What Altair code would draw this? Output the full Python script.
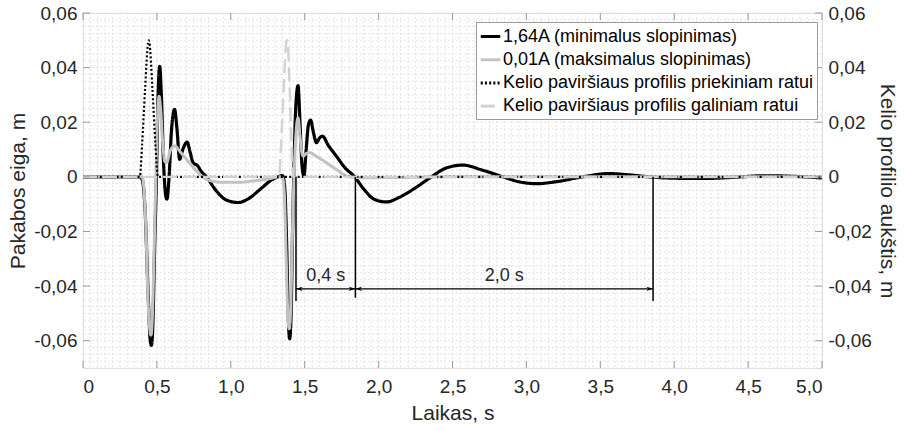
import altair as alt
import pandas as pd
import numpy as np

SERIES = ["1,64A (minimalus slopinimas)", "0,01A (maksimalus slopinimas)",
          "Kelio paviršiaus profilis priekiniam ratui", "Kelio paviršiaus profilis galiniam ratui"]
COLORS = ["#000000", "#c2c2c2", "#000000", "#d2d2d2"]
DASHES = [[1, 0], [1, 0], [2, 2.2], [14, 6]]

# 1,64A (minimal damping)
t_a = [0, 0.38, 0.40, 0.42, 0.44, 0.455, 0.463, 0.472, 0.485, 0.497, 0.508, 0.519, 0.53, 0.545, 0.56, 0.568,
       0.58, 0.60, 0.62, 0.635, 0.654, 0.675, 0.704, 0.725, 0.744, 0.776, 0.80, 0.835, 0.9, 0.97, 1.05, 1.12,
       1.2, 1.28, 1.32, 1.35, 1.365, 1.378, 1.39, 1.398, 1.407, 1.418, 1.428, 1.44, 1.455, 1.468, 1.482, 1.495,
       1.51, 1.525, 1.54, 1.56, 1.579, 1.60, 1.62, 1.66, 1.714, 1.77, 1.838, 1.9, 1.97, 2.053, 2.14, 2.25, 2.357,
       2.46, 2.571, 2.7, 2.842, 2.95, 3.07, 3.2, 3.38, 3.56, 3.7, 3.83, 4.0, 4.2, 4.4, 4.6, 4.8, 5.0]
y_a = [0, 0, -0.001, -0.012, -0.042, -0.06, -0.0617, -0.055, -0.025, 0.0, 0.03, 0.0405, 0.03, 0.005, -0.007, -0.0082,
       -0.002, 0.018, 0.0247, 0.018, 0.0064, 0.010, 0.0127, 0.009, 0.0053, 0.004, 0.002, 0.0, -0.005, -0.0085, -0.0094, -0.008,
       -0.0045, -0.001, 0.0, 0.0005, -0.004, -0.025, -0.053, -0.0593, -0.052, -0.02, 0.005, 0.026, 0.0334, 0.02, 0.004, 0.0003,
       0.01, 0.019, 0.0208, 0.016, 0.0125, 0.0142, 0.0149, 0.0115, 0.0076, 0.0035, 0.0, -0.0045, -0.0082, -0.0092, -0.0075, -0.004, 0.0,
       0.0033, 0.0043, 0.0025, 0.0, -0.0018, -0.0025, -0.0018, 0.0, 0.0012, 0.0007, 0.0, -0.0005, -0.0006, -0.0002, 0.0004, 0.0002, -0.0004]

# 0,01A (maximal damping)
t_b = [0, 0.40, 0.41, 0.425, 0.44, 0.452, 0.46, 0.468, 0.48, 0.492, 0.503, 0.515, 0.525, 0.54, 0.555, 0.567, 0.59,
       0.62, 0.66, 0.72, 0.77, 0.81, 0.87, 0.95, 1.05, 1.15, 1.25, 1.33, 1.35, 1.362, 1.375, 1.387, 1.395, 1.404,
       1.415, 1.428, 1.44, 1.455, 1.468, 1.48, 1.49, 1.51, 1.53, 1.58, 1.647, 1.72, 1.80, 1.9, 2.2, 2.5, 5.0]
y_b = [0, 0, -0.003, -0.018, -0.045, -0.056, -0.058, -0.053, -0.03, -0.003, 0.02, 0.0295, 0.025, 0.012, 0.0055, 0.0053, 0.0095,
       0.0113, 0.009, 0.0052, 0.002, 0.0, -0.0015, -0.002, -0.002, -0.0015, -0.0008, 0.0, -0.0005, -0.006, -0.03, -0.052, -0.0556, -0.05,
       -0.025, 0.0, 0.015, 0.0216, 0.015, 0.009, 0.0076, 0.0085, 0.0089, 0.0075, 0.0052, 0.0025, 0.0, -0.0003, -0.0002, 0.0, 0.0]

# road profile, front wheel
t_c = [0, 0.384, 0.40, 0.42, 0.44, 0.445, 0.45, 0.47, 0.49, 0.507, 5.0]
y_c = [0, 0, 0.012, 0.032, 0.049, 0.05, 0.049, 0.032, 0.012, 0, 0]

# road profile, rear wheel
t_d = [0, 1.326, 1.34, 1.36, 1.375, 1.38, 1.385, 1.40, 1.421, 5.0]
y_d = [0, 0, 0.012, 0.035, 0.049, 0.05, 0.049, 0.03, 0, 0]

# annotations
mark_t = [1.441, 1.843, 3.857]
mark_y = [-0.0455, -0.0443, -0.0455]
arrow_from = [1.441, 1.843]
arrow_to = [1.843, 3.857]
arrow_y = [-0.041, -0.041]
arrow_text = ["0,4 s", "2,0 s"]
text_y = [-0.0362, -0.0362]

x_ticks = [0, 0.5, 1.0, 1.5, 2.0, 2.5, 3.0, 3.5, 4.0, 4.5, 5.0]
y_ticks = [-0.06, -0.04, -0.02, 0.0, 0.02, 0.04, 0.06]
x_minor = list(np.round(np.arange(0, 5.0001, 0.05), 4))
y_minor = list(np.round(np.arange(-0.07, 0.06001, 0.0025), 5))

FONT = "Liberation Sans"
W, H = 739, 355

frames = []
for name, t, y in zip(SERIES, [t_a, t_b, t_c, t_d], [y_a, y_b, y_c, y_d]):
    frames.append(pd.DataFrame({"t": t, "v": y, "series": name}))
df = pd.concat(frames, ignore_index=True)

xscale = alt.Scale(domain=[0, 5], nice=False, zero=False)
yscale = alt.Scale(domain=[-0.07, 0.06], nice=False, zero=False)

YLBL = "datum.value == 0 ? '0' : replace(replace(format(datum.value, '.2f'), '.', ','), '\u2212', '-')"

xaxis = alt.Axis(title="Laikas, s", values=x_ticks, grid=False, ticks=False, domain=False,
                 labelExpr="datum.value == 0 ? '0' : replace(format(datum.value, '.1f'), '.', ',')",
                 labelFont=FONT, labelFontSize=19, labelColor="#262626", labelPadding=9,
                 titleFont=FONT, titleFontSize=21, titleFontWeight="normal", titleColor="#262626", titlePadding=6)
yaxis_l = alt.Axis(title="Pakabos eiga, m", values=y_ticks, grid=False, ticks=False, domain=False,
                   labelExpr=YLBL,
                   labelFont=FONT, labelFontSize=19, labelColor="#262626", labelPadding=6,
                   titleFont=FONT, titleFontSize=21, titleFontWeight="normal", titleColor="#262626", titlePadding=5)
yaxis_r = alt.Axis(title="Kelio profilio aukštis, m", orient="right", values=y_ticks, grid=False, ticks=False, domain=False,
                   labelExpr=YLBL,
                   labelFont=FONT, labelFontSize=19, labelColor="#262626", labelPadding=6,
                   titleFont=FONT, titleFontSize=21, titleFontWeight="normal", titleColor="#262626", titlePadding=5)


def X(field):
    return alt.X(field, type="quantitative", scale=xscale, axis=xaxis)


def Y(field):
    return alt.Y(field, type="quantitative", scale=yscale, axis=yaxis_l)


legend = alt.Legend(orient="none", legendX=393, legendY=9, title=None, symbolType="stroke", symbolSize=380,
                    symbolStrokeWidth=3, labelFont=FONT, labelFontSize=18, labelColor="#000000",
                    fillColor="white", strokeColor="#9a9a9a", padding=3, rowPadding=2.2, labelOffset=1,
                    labelLimit=500)

color = alt.Color("series:N", scale=alt.Scale(domain=SERIES, range=COLORS), legend=legend)
dash = alt.StrokeDash("series:N", scale=alt.Scale(domain=SERIES, range=DASHES), legend=legend)

gx = alt.Chart(pd.DataFrame({"gx": x_minor})).mark_rule(color="#e4e4e4", strokeWidth=1, strokeDash=[2, 2]).encode(x=X("gx"))
gy = alt.Chart(pd.DataFrame({"gy": y_minor})).mark_rule(color="#e4e4e4", strokeWidth=1, strokeDash=[2, 2]).encode(y=Y("gy"))

widths = [3.2, 3.0, 2.2, 2.4]
line_layers = []
for name, w in zip(SERIES, widths):
    line_layers.append(
        alt.Chart(df).transform_filter(alt.datum.series == name)
        .mark_line(strokeWidth=w, interpolate="monotone", strokeCap="butt", clip=True)
        .encode(x=X("t"), y=Y("v"), color=color, strokeDash=dash, order="t:Q")
    )

mk = pd.DataFrame({"t": mark_t, "yb": mark_y, "z": [0.0] * len(mark_t)})
vlines = alt.Chart(mk).mark_rule(color="black", strokeWidth=1.5).encode(x=X("t"), y=Y("z"), y2="yb")

ar = pd.DataFrame({"a": arrow_from, "b": arrow_to, "y": arrow_y, "label": arrow_text, "ty": text_y})
ar["mid"] = (ar["a"] + ar["b"]) / 2
arrows = alt.Chart(ar).mark_rule(color="black", strokeWidth=1.2).encode(x=X("a"), x2="b", y=Y("y"))
head_l = alt.Chart(ar).mark_point(shape="M0,0L2.2,-0.7L1.6,0L2.2,0.7Z", filled=True, color="black", size=36, opacity=1).encode(x=X("a"), y=Y("y"))
head_r = alt.Chart(ar).mark_point(shape="M0,0L-2.2,-0.7L-1.6,0L-2.2,0.7Z", filled=True, color="black", size=36, opacity=1).encode(x=X("b"), y=Y("y"))
labels = alt.Chart(ar).mark_text(font=FONT, fontSize=18, color="#262626").encode(x=X("mid"), y=Y("ty"), text="label:N")

tick_color = "#9a9a9a"
tl = alt.Chart(pd.DataFrame({"v": y_ticks})).mark_rule(color=tick_color).encode(y=Y("v"), x=alt.value(0), x2=alt.value(7))
tb = alt.Chart(pd.DataFrame({"v": x_ticks})).mark_rule(color=tick_color).encode(x=X("v"), y=alt.value(H - 7), y2=alt.value(H))
tt = alt.Chart(pd.DataFrame({"v": x_ticks})).mark_rule(color=tick_color).encode(x=X("v"), y=alt.value(0), y2=alt.value(7))

left = alt.layer(gx, gy, *line_layers, vlines, arrows, head_l, head_r, labels, tl, tb, tt)

tr = alt.Chart(pd.DataFrame({"v": y_ticks})).mark_rule(color=tick_color).encode(
    y=alt.Y("v:Q", scale=yscale, axis=yaxis_r), x=alt.value(W - 7), x2=alt.value(W))

chart = alt.layer(left, tr).resolve_scale(y="independent").properties(
    width=W, height=H,
    padding={"left": 83, "top": 13, "right": 83, "bottom": 62},
    autosize=alt.AutoSizeParams(type="none"),
).configure_view(stroke="#a8a8a8", strokeWidth=1).configure(background="white")

chart.save("out.html", embed_options={"renderer": "svg", "actions": False})
